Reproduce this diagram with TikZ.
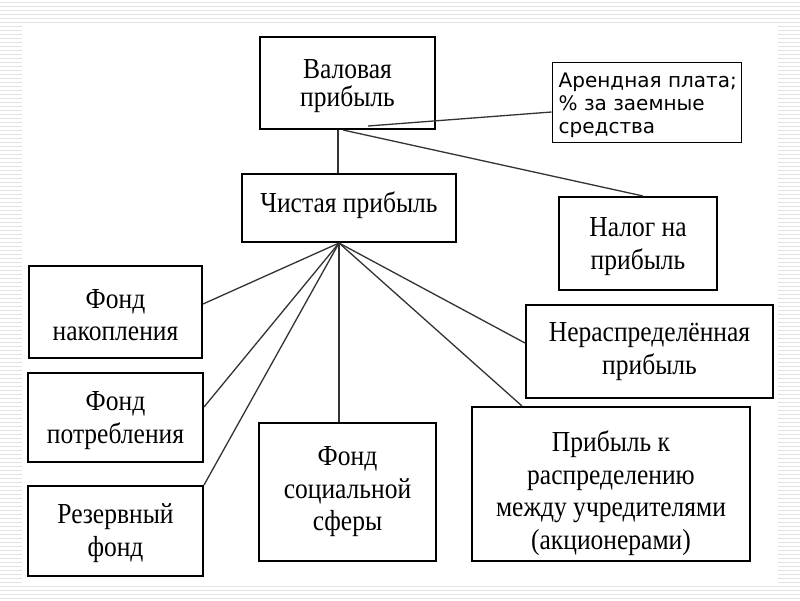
\documentclass[tikz,border=0pt]{standalone}
\usepackage{fontspec}
\setmainfont{Liberation Serif}[FakeStretch=0.88]
\newfontfamily\arfont{DejaVu Sans}
\begin{document}
\begin{tikzpicture}[x=1pt,y=-1pt,
  stripe/.style={draw=gray!22,line width=1pt},
  box/.style={draw=black,line width=2pt,rectangle,inner sep=0pt},
  thinbox/.style={draw=black,line width=1pt,rectangle,inner sep=0pt},
  txt/.style={inner sep=0pt,align=center,font=\fontsize{29pt}{32.5pt}\selectfont},
  artxt/.style={inner sep=0pt,align=left,anchor=west,font=\arfont\fontsize{20pt}{23pt}\selectfont},
  conn/.style={draw=black!80,line width=1.3pt}]
\useasboundingbox (0,0) rectangle (800,600);
\foreach \i in {0,...,149} \draw[stripe] (0,{4*\i+2}) -- (800,{4*\i+2});
\fill[white] (22,26) rectangle (778,583);

% boxes
\node[box,minimum width=175pt,minimum height=92pt] (val) at (347.5,83) {};
\node[txt,yshift=-3pt] (valt) at (val.center) {Валовая\\[-4pt]прибыль};

\node[thinbox,minimum width=189pt,minimum height=80pt] (ar) at (646.5,102) {};
\node[artxt,yshift=-3pt] (art) at ([xshift=7pt]ar.west) {Арендная плата;\\\% за заемные\\средства};

\node[box,minimum width=214pt,minimum height=68pt] (ch) at (349,208) {};
\node[txt,yshift=3pt] (cht) at (ch.center) {Чистая прибыль};

\node[box,minimum width=158pt,minimum height=93pt] (nal) at (638,243.5) {};
\node[txt,yshift=-3pt] (nalt) at (nal.center) {Налог на\\прибыль};

\node[box,minimum width=173pt,minimum height=92pt] (fn) at (115.5,312) {};
\node[txt,yshift=-3pt] (fnt) at (fn.center) {Фонд\\накопления};

\node[box,minimum width=175pt,minimum height=89pt] (fp) at (115.5,417.5) {};
\node[txt,yshift=-3pt] (fpt) at (fp.center) {Фонд\\потребления};

\node[box,minimum width=175pt,minimum height=90pt] (rf) at (115.5,531) {};
\node[txt,yshift=-2pt] (rft) at (rf.center) {Резервный\\фонд};

\node[box,minimum width=177pt,minimum height=138pt] (fs) at (347.5,492) {};
\node[txt] (fst) at (fs.center) {Фонд\\социальной\\сферы};

\node[box,minimum width=247pt,minimum height=93pt] (nr) at (649.5,351.5) {};
\node[txt] (nrt) at (nr.center) {Нераспределённая\\прибыль};

\node[box,minimum width=278pt,minimum height=154pt] (pk) at (611,484) {};
\node[txt,yshift=-9pt] (pkt) at (pk.center) {Прибыль к\\распределению\\между учредителями\\(акционерами)};

% connectors
\coordinate (valin) at (368,126);
\draw[conn] (valin) -- ([yshift=-10pt]ar.west);
\draw[conn] ([xshift=-9.5pt]val.south) -- ([xshift=-11pt]ch.north);
\draw[conn] ([xshift=-4.5pt]val.south) -- ([xshift=5pt]nal.north);
\coordinate (hub) at ([xshift=-10pt]ch.south);
\draw[conn] (hub) -- ([yshift=8pt]fn.east);
\draw[conn] (hub) -- ([yshift=10.5pt]fp.east);
\draw[conn] (hub) -- (rf.north east);
\draw[conn] (hub) -- ([xshift=-8.5pt]fs.north);
\draw[conn] (hub) -- ([yshift=8.5pt]nr.west);
\draw[conn] (hub) -- ([xshift=51pt]pk.north west);
\end{tikzpicture}
\end{document}
